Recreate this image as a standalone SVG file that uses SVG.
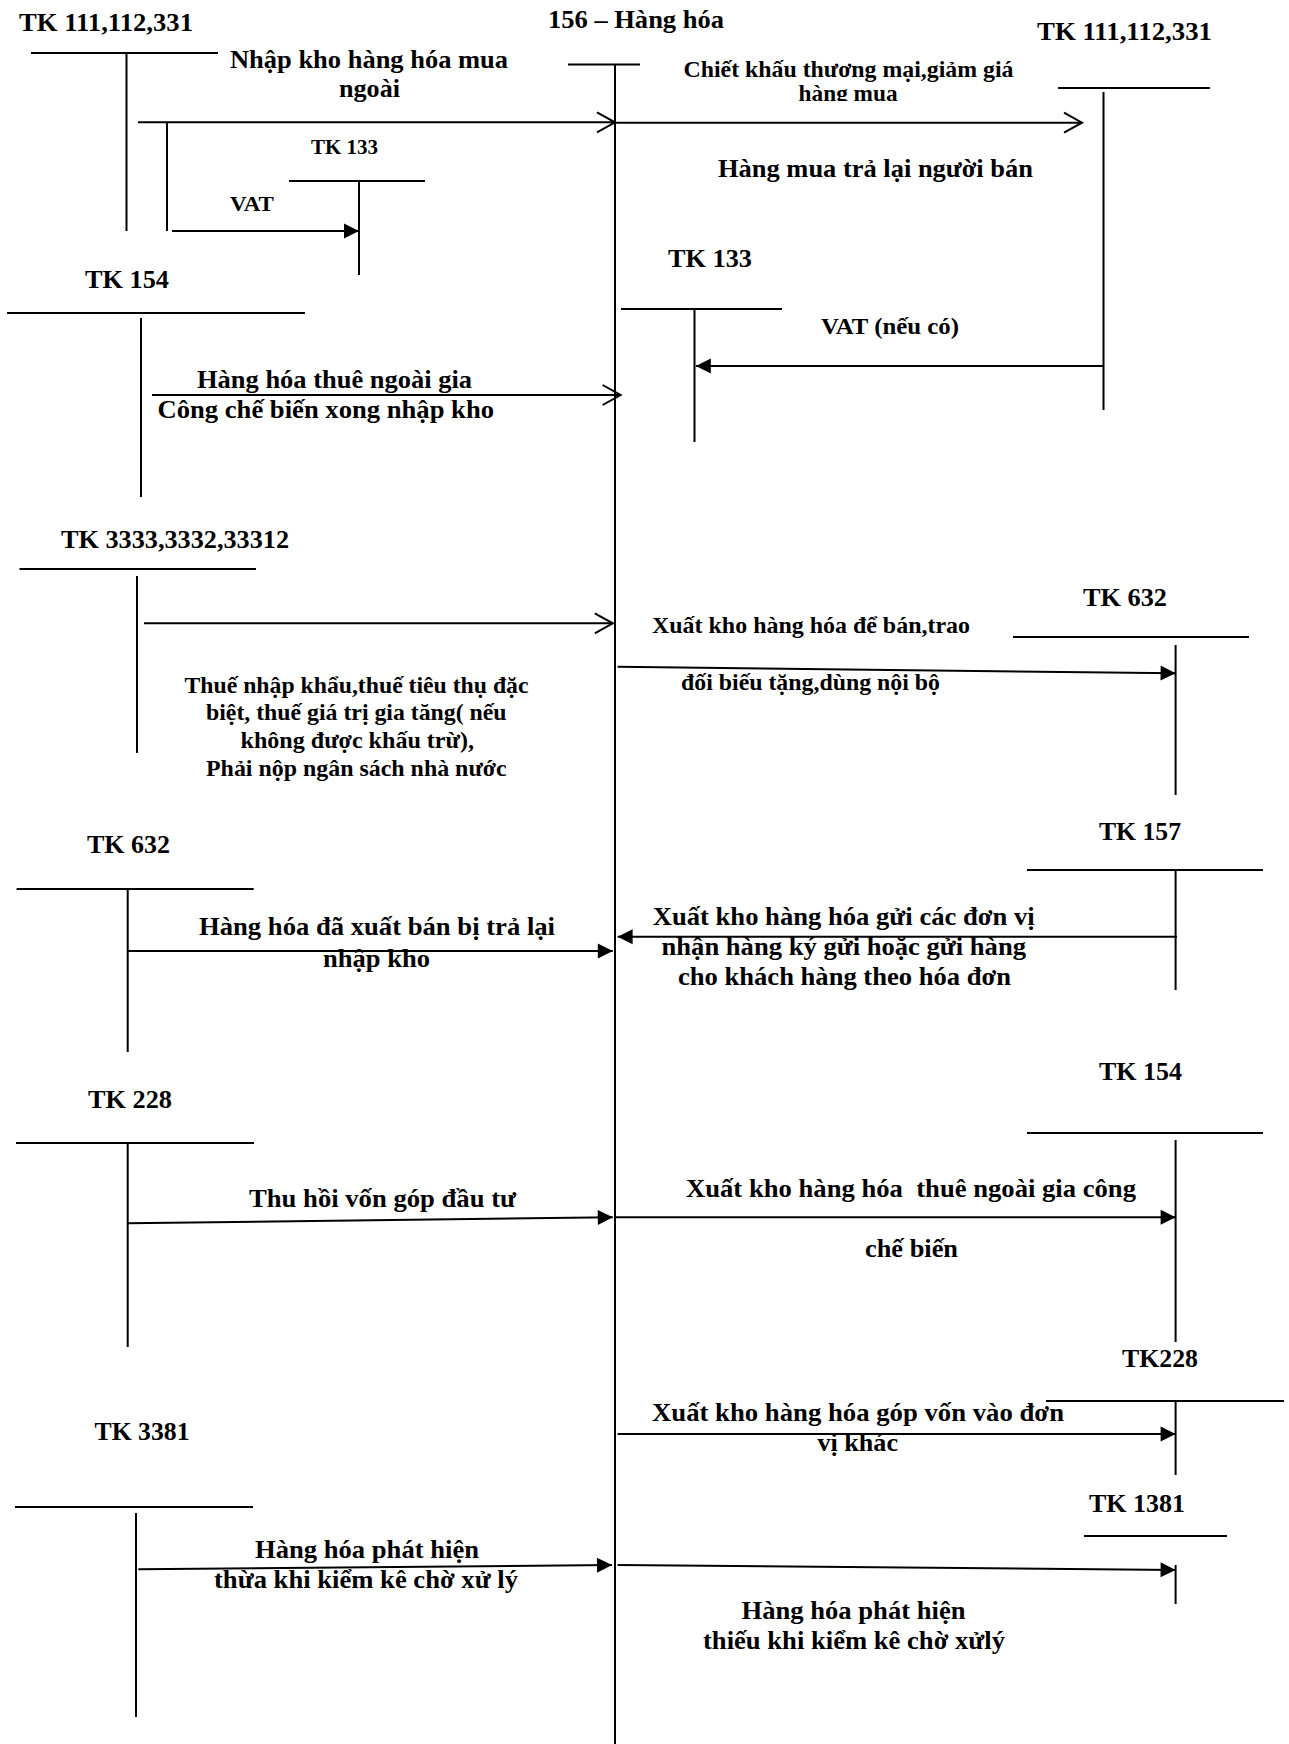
<svg xmlns="http://www.w3.org/2000/svg" width="1289" height="1744" viewBox="0 0 1289 1744">
<style>
text{font-family:"Liberation Serif","Times New Roman",serif;font-weight:bold;fill:#000;}
.h{font-size:26px;}
.m{font-size:25px;}
.s{font-size:23px;}
.xs{font-size:20px;}
line,polyline{stroke:#000;stroke-width:2;fill:none;}
</style>
<defs>
<marker id="open" markerUnits="userSpaceOnUse" markerWidth="24" markerHeight="24" refX="19" refY="11" orient="auto" overflow="visible"><path d="M1,1 L19,11 L1,21" fill="none" stroke="#000" stroke-width="2"/></marker>
<marker id="fill" markerUnits="userSpaceOnUse" markerWidth="16" markerHeight="16" refX="15" refY="8" orient="auto" overflow="visible"><path d="M0,0.5 L15,8 L0,15.5 Z" fill="#000"/></marker>
<clipPath id="clipHM"><rect x="780" y="80" width="140" height="21"/></clipPath>
</defs>
<rect width="1289" height="1744" fill="#fff"/>

<g id="tk156">
<text class="m" x="548" y="28" textLength="176" lengthAdjust="spacingAndGlyphs">156 – Hàng hóa</text>
<line x1="568" y1="64.5" x2="640" y2="64.5"/>
<line x1="615" y1="64" x2="615" y2="1744"/>
</g>

<g id="tk111-left">
<text class="h" x="19" y="31" textLength="174" lengthAdjust="spacingAndGlyphs">TK 111,112,331</text>
<line x1="31" y1="53" x2="218" y2="53"/>
<line x1="126.5" y1="53" x2="126.5" y2="231"/>
</g>

<g id="tk133-small">
<text class="xs" x="311" y="154" textLength="67" lengthAdjust="spacingAndGlyphs">TK 133</text>
<line x1="289" y1="181" x2="425" y2="181"/>
<line x1="359" y1="181" x2="359" y2="275"/>
</g>

<g id="tk154-left">
<text class="h" x="85" y="288" textLength="84" lengthAdjust="spacingAndGlyphs">TK 154</text>
<line x1="7" y1="313" x2="305" y2="313"/>
<line x1="141" y1="318" x2="141" y2="497"/>
</g>

<g id="tk111-right">
<text class="h" x="1037" y="40" textLength="175" lengthAdjust="spacingAndGlyphs">TK 111,112,331</text>
<line x1="1058" y1="88" x2="1210" y2="88"/>
<line x1="1103.5" y1="92" x2="1103.5" y2="410"/>
</g>

<g id="tk133-mid">
<text class="h" x="668" y="267" textLength="84" lengthAdjust="spacingAndGlyphs">TK 133</text>
<line x1="621" y1="309" x2="782" y2="309"/>
<line x1="694.5" y1="310" x2="694.5" y2="442"/>
</g>

<g id="tk3333">
<text class="h" x="61" y="548" textLength="228" lengthAdjust="spacingAndGlyphs">TK 3333,3332,33312</text>
<line x1="19.5" y1="569" x2="256" y2="569"/>
<line x1="137" y1="576" x2="137" y2="753"/>
</g>

<g id="tk632-right">
<text class="h" x="1083" y="606" textLength="84" lengthAdjust="spacingAndGlyphs">TK 632</text>
<line x1="1013" y1="637" x2="1249" y2="637"/>
<line x1="1175.6" y1="645" x2="1175.6" y2="795"/>
</g>

<g id="tk157">
<text class="h" x="1099" y="840" textLength="82" lengthAdjust="spacingAndGlyphs">TK 157</text>
<line x1="1027" y1="870" x2="1263" y2="870"/>
<line x1="1175.6" y1="870" x2="1175.6" y2="990"/>
</g>

<g id="tk632-left">
<text class="h" x="87" y="853" textLength="83" lengthAdjust="spacingAndGlyphs">TK 632</text>
<line x1="16.6" y1="889" x2="253.7" y2="889"/>
<line x1="127.7" y1="889" x2="127.7" y2="1052"/>
</g>

<g id="tk228-left">
<text class="h" x="88" y="1108" textLength="84" lengthAdjust="spacingAndGlyphs">TK 228</text>
<line x1="16" y1="1143" x2="254" y2="1143"/>
<line x1="127.7" y1="1143" x2="127.7" y2="1347"/>
</g>

<g id="tk154-right">
<text class="h" x="1099" y="1080" textLength="83" lengthAdjust="spacingAndGlyphs">TK 154</text>
<line x1="1027" y1="1133" x2="1263" y2="1133"/>
<line x1="1175.6" y1="1140" x2="1175.6" y2="1342"/>
</g>

<g id="tk228-right">
<text class="h" x="1122" y="1367" textLength="76" lengthAdjust="spacingAndGlyphs">TK228</text>
<line x1="1046" y1="1401" x2="1284" y2="1401"/>
<line x1="1175.6" y1="1401" x2="1175.6" y2="1475"/>
</g>

<g id="tk3381">
<text class="h" x="94.5" y="1440" textLength="95" lengthAdjust="spacingAndGlyphs">TK 3381</text>
<line x1="15" y1="1507" x2="253" y2="1507"/>
<line x1="136" y1="1513" x2="136" y2="1717"/>
</g>

<g id="tk1381">
<text class="h" x="1089" y="1512" textLength="96" lengthAdjust="spacingAndGlyphs">TK 1381</text>
<line x1="1084" y1="1536" x2="1227" y2="1536"/>
<line x1="1175.6" y1="1565" x2="1175.6" y2="1604"/>
</g>

<g id="connectors">
<line x1="138" y1="122.3" x2="615" y2="122.3" marker-end="url(#open)"/>
<line x1="167" y1="122" x2="167" y2="231"/>
<line x1="172" y1="231" x2="359" y2="231" marker-end="url(#fill)"/>
<line x1="615" y1="122.7" x2="1082" y2="122.7" marker-end="url(#open)"/>
<line x1="1103.5" y1="366" x2="695.8" y2="366" marker-end="url(#fill)"/>
<line x1="152" y1="395" x2="620.6" y2="395" marker-end="url(#open)"/>
<line x1="144" y1="623.3" x2="612.8" y2="623.3" marker-end="url(#open)"/>
<line x1="617.6" y1="666.7" x2="1175.6" y2="673.3" marker-end="url(#fill)"/>
<line x1="1177" y1="936.7" x2="617.6" y2="936.7" marker-end="url(#fill)"/>
<line x1="127.7" y1="951" x2="612.8" y2="951" marker-end="url(#fill)"/>
<line x1="127.7" y1="1223.3" x2="612.8" y2="1217.3" marker-end="url(#fill)"/>
<line x1="615" y1="1217.3" x2="1175.6" y2="1217.3" marker-end="url(#fill)"/>
<line x1="617.6" y1="1434" x2="1175.6" y2="1434" marker-end="url(#fill)"/>
<line x1="138.4" y1="1569.3" x2="612" y2="1565" marker-end="url(#fill)"/>
<line x1="617.6" y1="1565" x2="1175.6" y2="1570" marker-end="url(#fill)"/>
</g>

<g id="labels">
<text class="m" x="230" y="68" textLength="278" lengthAdjust="spacingAndGlyphs">Nhập kho hàng hóa mua</text>
<text class="m" x="339" y="97" textLength="61" lengthAdjust="spacingAndGlyphs">ngoài</text>
<text class="xs" x="230" y="211" textLength="44" lengthAdjust="spacingAndGlyphs">VAT</text>
<text class="s" x="683.5" y="77" textLength="330" lengthAdjust="spacingAndGlyphs">Chiết khấu thương mại,giảm giá</text>
<text class="s" x="798.6" y="100.5" textLength="99" lengthAdjust="spacingAndGlyphs" clip-path="url(#clipHM)">hàng mua</text>
<text class="m" x="718" y="177" textLength="315" lengthAdjust="spacingAndGlyphs">Hàng mua trả lại người bán</text>
<text class="s" x="821" y="334" textLength="138" lengthAdjust="spacingAndGlyphs">VAT (nếu có)</text>
<text class="m" x="197" y="388" textLength="275" lengthAdjust="spacingAndGlyphs">Hàng hóa thuê ngoài gia</text>
<text class="m" x="157.5" y="418" textLength="336.5" lengthAdjust="spacingAndGlyphs">Công chế biến xong nhập kho</text>
<text class="s" x="184.5" y="692.7" textLength="344" lengthAdjust="spacingAndGlyphs">Thuế nhập khẩu,thuế tiêu thụ đặc</text>
<text class="s" x="206" y="720" textLength="300.6" lengthAdjust="spacingAndGlyphs">biệt, thuế giá trị gia tăng( nếu</text>
<text class="s" x="240.5" y="748.3" textLength="233.5" lengthAdjust="spacingAndGlyphs">không được khấu trừ),</text>
<text class="s" x="206" y="776" textLength="300.6" lengthAdjust="spacingAndGlyphs">Phải nộp ngân sách nhà nước</text>
<text class="s" x="652" y="633" textLength="318" lengthAdjust="spacingAndGlyphs">Xuất kho hàng hóa để bán,trao</text>
<text class="s" x="681" y="690" textLength="259" lengthAdjust="spacingAndGlyphs">đối biếu tặng,dùng nội bộ</text>
<text class="m" x="652.7" y="925" textLength="382" lengthAdjust="spacingAndGlyphs">Xuất kho hàng hóa gửi các đơn vị</text>
<text class="m" x="661.5" y="955" textLength="364.5" lengthAdjust="spacingAndGlyphs">nhận hàng ký gửi hoặc gửi hàng</text>
<text class="m" x="678" y="985" textLength="333" lengthAdjust="spacingAndGlyphs">cho khách hàng theo hóa đơn</text>
<text class="m" x="199" y="935" textLength="356" lengthAdjust="spacingAndGlyphs">Hàng hóa đã xuất bán bị trả lại</text>
<text class="m" x="323" y="967" textLength="107" lengthAdjust="spacingAndGlyphs">nhập kho</text>
<text class="m" x="249" y="1207" textLength="267" lengthAdjust="spacingAndGlyphs">Thu hồi vốn góp đầu tư</text>
<text class="m" x="686" y="1197" textLength="450" lengthAdjust="spacingAndGlyphs">Xuất kho hàng hóa&#160; thuê ngoài gia công</text>
<text class="m" x="865" y="1257" textLength="93" lengthAdjust="spacingAndGlyphs">chế biến</text>
<text class="m" x="652" y="1421" textLength="412" lengthAdjust="spacingAndGlyphs">Xuất kho hàng hóa góp vốn vào đơn</text>
<text class="m" x="817.5" y="1451" textLength="80.5" lengthAdjust="spacingAndGlyphs">vị khác</text>
<text class="m" x="255" y="1558" textLength="224" lengthAdjust="spacingAndGlyphs">Hàng hóa phát hiện</text>
<text class="m" x="214" y="1588" textLength="304" lengthAdjust="spacingAndGlyphs">thừa khi kiểm kê chờ xử lý</text>
<text class="m" x="741.5" y="1619" textLength="224" lengthAdjust="spacingAndGlyphs">Hàng hóa phát hiện</text>
<text class="m" x="703" y="1649" textLength="302" lengthAdjust="spacingAndGlyphs">thiếu khi kiểm kê chờ xửlý</text>
</g>
</svg>
